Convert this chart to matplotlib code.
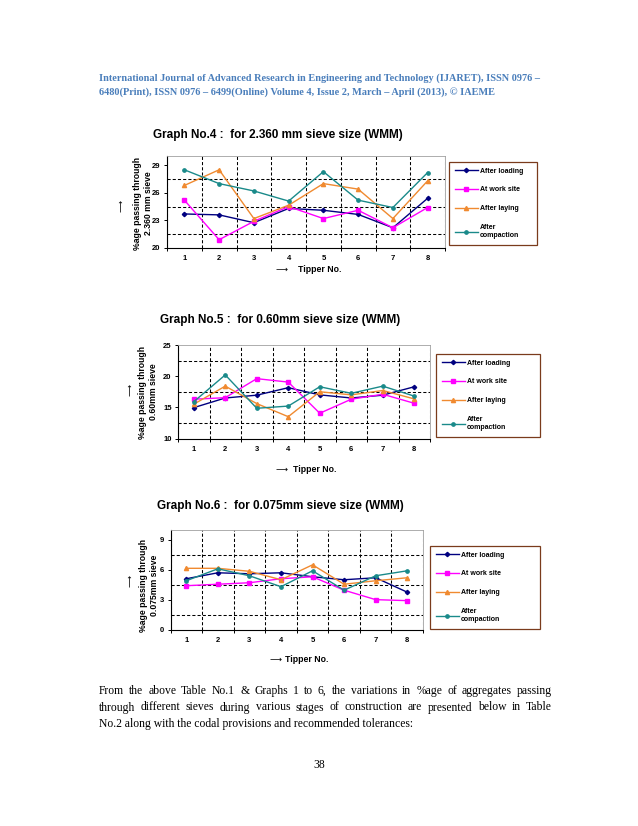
import matplotlib
matplotlib.use("Agg")
import matplotlib.pyplot as plt
import numpy as np

# ---- data ----
tippers = [1, 2, 3, 4, 5, 6, 7, 8]
series_names = ["After loading", "At work site", "After laying", "After\ncompaction"]

# Graph No.4 : 2.360 mm sieve
g4_loading = [23.7, 23.6, 22.75, 24.3, 24.1, 23.65, 22.2, 25.4]
g4_worksite = [25.2, 20.9, 22.9, 24.5, 23.2, 24.1, 22.2, 24.4]
g4_laying = [26.8, 28.5, 23.2, 24.65, 27.0, 26.4, 23.2, 27.3]
g4_compaction = [28.5, 27.0, 26.2, 25.1, 28.3, 25.2, 24.4, 28.2]

# Graph No.5 : 0.60 mm sieve
g5_loading = [14.95, 16.5, 16.95, 18.15, 17.0, 16.5, 16.95, 18.3]
g5_worksite = [16.3, 16.55, 19.6, 19.05, 14.05, 16.3, 17.1, 15.65]
g5_laying = [15.5, 18.4, 15.6, 13.5, 17.5, 17.0, 17.7, 16.35]
g5_compaction = [15.9, 20.2, 14.85, 15.2, 18.3, 17.25, 18.4, 16.8]

# Graph No.6 : 0.075 mm sieve
g6_loading = [5.1, 5.7, 5.6, 5.7, 5.3, 5.0, 5.2, 3.75]
g6_worksite = [4.4, 4.55, 4.7, 5.1, 5.3, 3.95, 3.0, 2.9]
g6_laying = [6.15, 6.15, 5.85, 5.0, 6.5, 4.55, 4.9, 5.2]
g6_compaction = [4.9, 6.1, 5.4, 4.3, 5.9, 3.95, 5.4, 5.9]

header_lines = [
    "International Journal of Advanced Research in Engineering and Technology (IJARET), ISSN 0976 \u2013",
    "6480(Print), ISSN 0976 \u2013 6499(Online) Volume 4, Issue 2, March \u2013 April (2013), \u00a9 IAEME",
]
body_lines = [
    "From the above Table No.1 & Graphs 1 to 6, the variations in %age of aggregates passing",
    "through different sieves during various stages of construction are presented below in Table",
    "No.2 along with the codal provisions and recommended tolerances:",
]

W, H = 638, 826
fig = plt.figure(figsize=(W / 100, H / 100), dpi=100)
fig.patch.set_facecolor("white")

colors = ["#000080", "#ff00ff", "#f08a30", "#1a8a8a"]
markers = ["D", "s", "^", "o"]
msizes = [2.2, 2.4, 3.0, 2.4]
sans = "Liberation Sans"
serif = "Liberation Serif"
arrow_font = "DejaVu Sans"


def px(x, y):
    return x / W, 1 - y / H


def draw_chart(box, series, ylim, ystep, ylabels, title, title_xy, ylab, ylab_xy,
               arrow_xy, xarrow_xy, xlab_xy, leg_box):
    l, t, r, b = box
    ax = fig.add_axes([l / W, 1 - b / H, (r - l) / W, (b - t) / H])
    for vals, name, c, m, ms in zip(series, series_names, colors, markers, msizes):
        ax.plot(tippers, vals, color=c, marker=m, ms=ms, lw=1.0, label=name)
    ax.set_xlim(0.5, 8.5)
    ax.set_ylim(*ylim)
    ax.set_xticks(tippers)
    ax.set_xticks(np.arange(0.5, 9, 1), minor=True)
    ax.set_yticks(ylabels)
    ax.set_yticks(np.arange(ylim[0], ylim[1] + 0.01, ystep), minor=True)
    ax.tick_params(axis="x", which="major", length=0, pad=5.3, labelsize=5.5)
    ax.tick_params(axis="x", which="minor", length=2.2, width=0.7, direction="out")
    ax.tick_params(axis="y", which="major", length=2.2, width=0.7, pad=2.3, labelsize=5.5)
    ax.tick_params(axis="y", which="minor", length=0)
    for lab in ax.get_xticklabels() + ax.get_yticklabels():
        lab.set_fontfamily(sans)
        lab.set_fontweight("bold")
    ax.grid(True, which="minor", axis="both", color="black", lw=0.75,
            linestyle=(0, (3, 2)))
    ax.set_axisbelow(True)
    for s in ["left", "bottom"]:
        ax.spines[s].set_linewidth(0.8)
        ax.spines[s].set_color("black")
    for s in ["top", "right"]:
        ax.spines[s].set_linewidth(0.6)
        ax.spines[s].set_color("#a0a0a0")

    fig.text(*px(*title_xy), title, fontsize=8.5, fontweight="bold", family=sans,
             ha="left", va="center")
    fig.text(*px(*ylab_xy), ylab, fontsize=6.2, fontweight="bold", family=sans,
             rotation=90, ha="center", va="center", linespacing=1.15)
    fig.text(*px(*arrow_xy), "\u27f6", fontsize=6, family=arrow_font, rotation=90,
             ha="center", va="center")
    fig.text(*px(*xarrow_xy), "\u27f6", fontsize=6, family=arrow_font,
             ha="center", va="center")
    fig.text(*px(*xlab_xy), "Tipper No.", fontsize=6.3, fontweight="bold", family=sans,
             ha="left", va="center")

    lx0, ly0, lx1, ly1 = leg_box
    leg = ax.legend(loc="upper left", bbox_to_anchor=(lx0 / W, 1 - ly1 / H,
                                                       (lx1 - lx0) / W, (ly1 - ly0) / H),
                    bbox_transform=fig.transFigure, mode="expand", borderaxespad=0,
                    fancybox=False, edgecolor="#7a3b1c", framealpha=1,
                    prop={"family": sans, "weight": "bold", "size": 5},
                    handlelength=3.4, handletextpad=0.2, labelspacing=1.7,
                    borderpad=0.8)
    leg.get_frame().set_linewidth(0.9)
    return ax


draw_chart((167, 156, 445, 248),
           [g4_loading, g4_worksite, g4_laying, g4_compaction],
           (20, 30), 1.5, [20, 23, 26, 29],
           "Graph No.4 :  for 2.360 mm sieve size (WMM)", (153, 135),
           "%age passing through\n2.360 mm sieve", (143, 203),
           (121, 206), (282, 269), (298, 269), (449, 162, 537, 246))

draw_chart((178, 345, 430, 438.5),
           [g5_loading, g5_worksite, g5_laying, g5_compaction],
           (10, 25), 2.5, [10, 15, 20, 25],
           "Graph No.5 :  for 0.60mm sieve size (WMM)", (160, 320),
           "%age passing through\n0.60mm sieve", (148, 392),
           (130, 390), (282, 469), (293, 469), (436, 354, 540, 431))

draw_chart((170.5, 530, 423, 629.5),
           [g6_loading, g6_worksite, g6_laying, g6_compaction],
           (0, 10), 1.5, [0, 3, 6, 9],
           "Graph No.6 :  for 0.075mm sieve size (WMM)", (157, 506),
           "%age passing through\n0.075mm sieve", (149, 585),
           (130, 581), (275, 659), (285, 659), (430, 546, 540, 623))

# ---- page text ----
for line, y in zip(header_lines, [80.5, 94.5]):
    fig.text(*px(99, y), line, fontsize=7.4, fontweight="bold", family=serif,
             color="#4a7ebb", ha="left", va="baseline")

# body paragraph, first two lines justified to the text column
rend = fig.canvas.get_renderer()
body_base = [694, 710.5, 727]
for i, (line, y) in enumerate(zip(body_lines, body_base)):
    if i == len(body_lines) - 1:
        fig.text(*px(99, y), line, fontsize=8.4, family=serif, ha="left",
                 va="baseline")
        continue
    words = line.split(" ")
    arts = [fig.text(0, 1 - y / H, w, fontsize=8.4, family=serif, ha="left",
                     va="baseline") for w in words]
    widths = [a.get_window_extent(rend).width for a in arts]
    gap = ((552 - 99) - sum(widths)) / (len(words) - 1)
    x = 99
    for a, wd in zip(arts, widths):
        a.set_x(x / W)
        x += wd + gap

fig.text(*px(319, 767.5), "38", fontsize=8.4, family=serif, ha="center", va="baseline")

fig.savefig("out.png", dpi=100)
